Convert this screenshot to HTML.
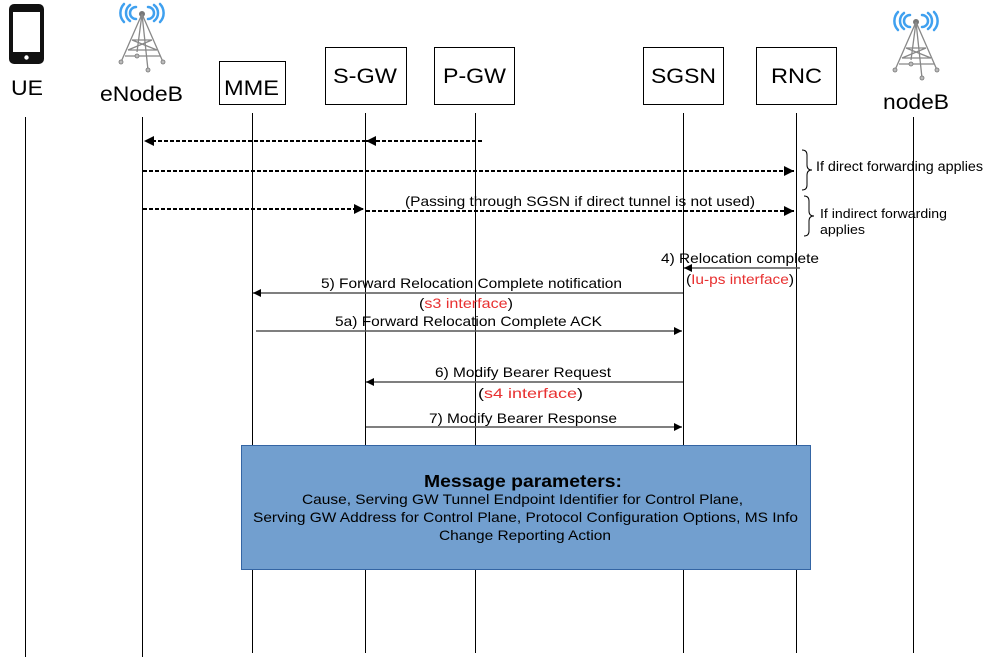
<!DOCTYPE html>
<html><head><meta charset="utf-8"><style>
html,body{margin:0;padding:0;background:#fff;}
svg{display:block;font-family:"Liberation Sans",sans-serif;}
</style></head><body>
<svg width="984" height="659" viewBox="0 0 984 659" xmlns="http://www.w3.org/2000/svg">
<defs>
<marker id="a" viewBox="0 0 10 10" refX="10" refY="5" markerWidth="14" markerHeight="10" markerUnits="userSpaceOnUse" orient="auto"><path d="M0,0L10,5L0,10z" fill="#000"/></marker>
<marker id="b" viewBox="0 0 10 10" refX="10" refY="5" markerWidth="13" markerHeight="8" markerUnits="userSpaceOnUse" orient="auto"><path d="M0,0L10,5L0,10z" fill="#000"/></marker>
</defs>
<g stroke="#000" stroke-width="1">
<line x1="25.5" y1="117" x2="25.5" y2="657"/>
<line x1="142.5" y1="117" x2="142.5" y2="657"/>
<line x1="252.5" y1="113" x2="252.5" y2="653"/>
<line x1="365.5" y1="113" x2="365.5" y2="653"/>
<line x1="475.5" y1="113" x2="475.5" y2="653"/>
<line x1="683.5" y1="113" x2="683.5" y2="653"/>
<line x1="796.5" y1="113" x2="796.5" y2="653"/>
<line x1="913.5" y1="117" x2="913.5" y2="653"/>
</g>
<g fill="#fff" stroke="#000" stroke-width="1">
<rect x="219.5" y="61.5" width="66" height="43"/>
<rect x="325.5" y="47.5" width="81" height="57"/>
<rect x="434.5" y="47.5" width="80" height="57"/>
<rect x="643.5" y="47.5" width="80" height="57"/>
<rect x="756.5" y="47.5" width="80" height="57"/>
</g>
<g font-size="21" fill="#000" lengthAdjust="spacingAndGlyphs">
<text x="224" y="95" textLength="55" lengthAdjust="spacingAndGlyphs">MME</text>
<text x="333" y="83" textLength="64" lengthAdjust="spacingAndGlyphs">S-GW</text>
<text x="443" y="83" textLength="63" lengthAdjust="spacingAndGlyphs">P-GW</text>
<text x="651" y="83" textLength="65" lengthAdjust="spacingAndGlyphs">SGSN</text>
<text x="771" y="83" textLength="51" lengthAdjust="spacingAndGlyphs">RNC</text>
<text x="11" y="95" textLength="32" lengthAdjust="spacingAndGlyphs">UE</text>
<text x="100" y="101" textLength="83" lengthAdjust="spacingAndGlyphs">eNodeB</text>
<text x="883" y="109" textLength="66" lengthAdjust="spacingAndGlyphs">nodeB</text>
</g>
<rect x="9" y="4" width="35" height="60" rx="5" fill="#111"/>
<rect x="13" y="12" width="27" height="40" fill="#fff"/>
<circle cx="26.5" cy="57.5" r="2.2" fill="#fff"/>
<g id="tw">
<g fill="none" stroke="#3fa0ef" stroke-width="2.5" stroke-linecap="round">
<path d="M136,7 a6,6 0 0 0 0,12"/><path d="M148,7 a6,6 0 0 1 0,12"/>
<path d="M130,5 a10,10 0 0 0 0,16"/><path d="M154,5 a10,10 0 0 1 0,16"/>
<path d="M124,4 a13,13 0 0 0 0,18"/><path d="M160,4 a13,13 0 0 1 0,18"/>
</g>
<circle cx="142" cy="14" r="3" fill="#777"/>
<g stroke="#888" stroke-width="1.3" fill="none">
<path d="M142,14 L121,62 M142,14 L163,62 M142,14 L148,70 M142,14 L137,52"/>
<path d="M132,40 L152,40 M128,50 L157,50 M125,56 L160,56 M132,40 L157,50 M152,40 L128,50"/>
</g>
<g fill="#bbb" stroke="#777" stroke-width="0.8">
<circle cx="121" cy="62" r="2"/><circle cx="163" cy="62" r="2"/><circle cx="148" cy="70" r="2"/><circle cx="137" cy="56" r="2"/>
</g>
</g>
<use href="#tw" transform="translate(774,8)"/>
<g stroke="#000" stroke-width="2" stroke-dasharray="4,2" fill="none">
<line x1="482" y1="141" x2="366" y2="141" marker-end="url(#a)"/>
<line x1="366" y1="141" x2="144" y2="141" marker-end="url(#a)"/>
<line x1="143" y1="171" x2="794" y2="171" marker-end="url(#a)"/>
<line x1="143" y1="209" x2="364" y2="209" marker-end="url(#a)"/>
<line x1="366" y1="211" x2="794" y2="211" marker-end="url(#a)"/>
</g>
<text x="405" y="206" font-size="14" textLength="350" lengthAdjust="spacingAndGlyphs">(Passing through SGSN if direct tunnel is not used)</text>
<g fill="none" stroke="#000" stroke-width="1">
<path d="M802,150 q5,0 5,5 v10 q0,5 5,5 q-5,0 -5,5 v10 q0,5 -5,5"/>
<path d="M804,196 q5,0 5,5 v10 q0,5 5,5 q-5,0 -5,5 v10 q0,5 -5,5"/>
</g>
<text x="816" y="171" font-size="13.5" textLength="167" lengthAdjust="spacingAndGlyphs">If direct forwarding applies</text>
<text x="820" y="218" font-size="12.5" textLength="127" lengthAdjust="spacingAndGlyphs">If indirect forwarding</text>
<text x="820" y="234" font-size="12.5" textLength="45" lengthAdjust="spacingAndGlyphs">applies</text>
<g stroke="#555" stroke-width="1.5">
<line x1="800" y1="268" x2="684" y2="268" marker-end="url(#b)"/>
<line x1="683" y1="293" x2="253" y2="293" marker-end="url(#b)"/>
<line x1="256" y1="331" x2="682" y2="331" marker-end="url(#b)"/>
<line x1="683" y1="382" x2="366" y2="382" marker-end="url(#b)"/>
<line x1="366" y1="427" x2="682" y2="427" marker-end="url(#b)"/>
</g>
<g font-size="14" fill="#000">
<text x="661" y="263" textLength="158" lengthAdjust="spacingAndGlyphs">4) Relocation complete</text>
<text x="686" y="284" textLength="108" lengthAdjust="spacingAndGlyphs">(<tspan fill="#e83030">Iu-ps interface</tspan>)</text>
<text x="321" y="288" textLength="301" lengthAdjust="spacingAndGlyphs">5) Forward Relocation Complete notification</text>
<text x="419" y="308" textLength="94" lengthAdjust="spacingAndGlyphs">(<tspan fill="#e83030">s3 interface</tspan>)</text>
<text x="335" y="326" textLength="267" lengthAdjust="spacingAndGlyphs">5a) Forward Relocation Complete ACK</text>
<text x="435" y="377" textLength="176" lengthAdjust="spacingAndGlyphs">6) Modify Bearer Request</text>
<text x="478" y="398" textLength="105" lengthAdjust="spacingAndGlyphs">(<tspan fill="#e83030">s4 interface</tspan>)</text>
<text x="429" y="423" textLength="188" lengthAdjust="spacingAndGlyphs">7) Modify Bearer Response</text>
</g>
<rect x="241.5" y="445.5" width="569" height="124" fill="#729fcf" stroke="#3465a4" stroke-width="1"/>
<g fill="#000">
<text x="424" y="487" font-size="17.5" font-weight="bold" textLength="198" lengthAdjust="spacingAndGlyphs">Message parameters:</text>
<text x="302" y="504" font-size="14" textLength="441" lengthAdjust="spacingAndGlyphs">Cause, Serving GW Tunnel Endpoint Identifier for Control Plane,</text>
<text x="253" y="522" font-size="14" textLength="545" lengthAdjust="spacingAndGlyphs">Serving GW Address for Control Plane, Protocol Configuration Options, MS Info</text>
<text x="439" y="540" font-size="14" textLength="172" lengthAdjust="spacingAndGlyphs">Change Reporting Action</text>
</g>
</svg>
</body></html>
